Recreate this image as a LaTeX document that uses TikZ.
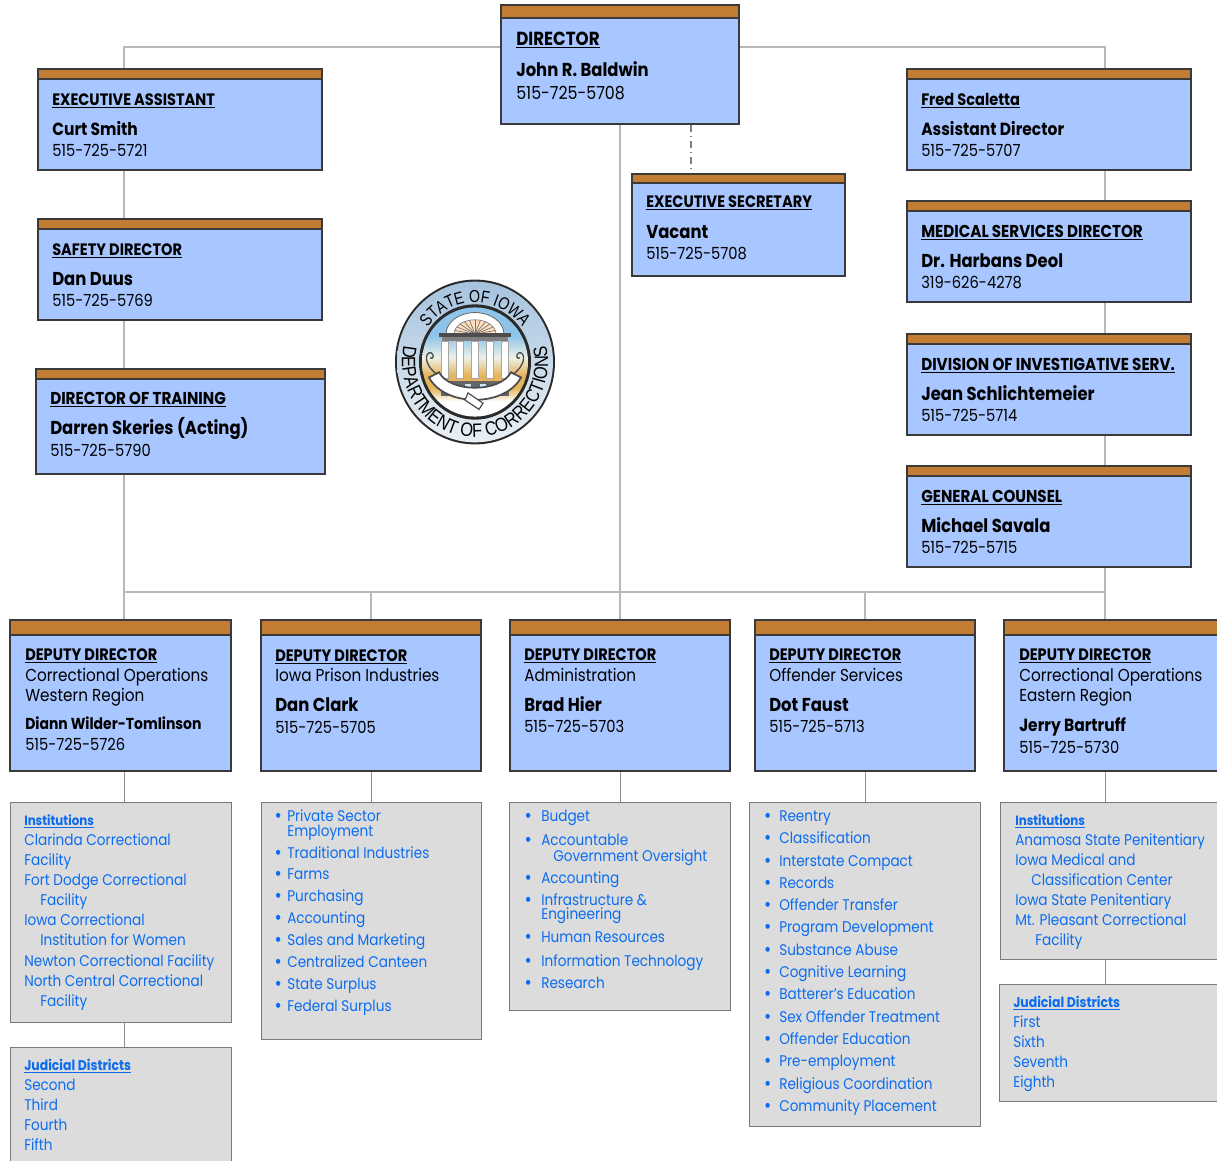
\documentclass[tikz,border=0pt]{standalone}
\usepackage{fontspec}
\setmainfont{Poppins}[FakeStretch=0.88]
\newfontfamily\sealtop{Liberation Sans}[FakeStretch=0.82]
\newfontfamily\sealrim{Liberation Sans}[FakeStretch=0.85]
\usetikzlibrary{decorations.text}
\definecolor{boxblue}{HTML}{A8C6FF}
\definecolor{barorange}{HTML}{C27C33}
\definecolor{edgedark}{HTML}{3A3A3A}
\definecolor{panelgray}{HTML}{DCDCDC}
\definecolor{paneledge}{HTML}{7A7A7A}
\definecolor{wiregray}{HTML}{B8B8B8}
\definecolor{lowgray}{HTML}{8C8C8C}
\definecolor{linkblue}{HTML}{0B6CF0}
\definecolor{sealtopc}{HTML}{A6C3DE}
\definecolor{sealbotc}{HTML}{EAF0F5}
\definecolor{sealink}{HTML}{2A2A2A}
\definecolor{skyblue}{HTML}{8FC4EA}
\definecolor{skypale}{HTML}{EDF1E6}
\definecolor{sandgold}{HTML}{E6B45C}
\pgfdeclareverticalshading{sealsky}{100bp}{color(0bp)=(white); color(32bp)=(white); color(38bp)=(sandgold); color(44bp)=(sandgold); color(52bp)=(skypale); color(62bp)=(skyblue); color(100bp)=(skyblue)}
\tikzset{
  bluebox/.style={draw=edgedark, line width=1.5pt, fill=boxblue, inner sep=0pt},
  barbox/.style={draw=edgedark, line width=1.5pt, fill=barorange, inner sep=0pt, anchor=north},
  graybox/.style={draw=paneledge, line width=0.6pt, fill=panelgray, inner sep=0pt},
  wire/.style={wiregray, line width=0.8pt},
  lowwire/.style={lowgray, line width=0.6pt},
  textline/.style={anchor=base west, inner sep=0pt, text=black},
  headline/.style={textline, font=\fontsize{12.4pt}{14pt}\selectfont\bfseries},
  wideheadline/.style={textline, font=\fontsize{12.9pt}{14pt}\selectfont\bfseries},
  tophead/.style={textline, font=\fontsize{14.2pt}{16pt}\selectfont\bfseries},
  nameline/.style={textline, font=\fontsize{14pt}{16pt}\selectfont\bfseries},
  smallname/.style={textline, font=\fontsize{11.9pt}{15pt}\selectfont\bfseries},
  midname/.style={textline, font=\fontsize{13.2pt}{15pt}\selectfont\bfseries},
  infoline/.style={textline, font=\fontsize{13pt}{15pt}\selectfont},
  phoneline/.style={textline, font=\fontsize{12.5pt}{15pt}\selectfont},
  topphone/.style={textline, font=\fontsize{13.5pt}{15pt}\selectfont},
  linkline/.style={textline, text=linkblue, font=\fontsize{11.6pt}{14pt}\selectfont},
  linkhead/.style={textline, text=linkblue, font=\fontsize{10.1pt}{14pt}\selectfont\bfseries},
  judhead/.style={textline, text=linkblue, font=\fontsize{10.6pt}{14pt}\selectfont\bfseries},
}
\newcommand{\orgbox}[6]{% name, left, top, right, bottom, bar bottom
  \node[bluebox, minimum width={(#4-#2)*0.75pt}, minimum height={(#5-#3)*0.75pt}] (#1) at ({(#2+#4)/2},{(#3+#5)/2}) {};
  \node[barbox, minimum width={(#4-#2)*0.75pt}, minimum height={(#6-#3)*0.75pt}] (#1bar) at (#1.north) {};
}
\newcommand{\panelbox}[5]{% name, left, top, right, bottom
  \node[graybox, minimum width={(#4-#2)*0.75pt}, minimum height={(#5-#3)*0.75pt}] (#1) at ({(#2+#4)/2},{(#3+#5)/2}) {};
}
\newcommand{\itm}[1][4pt]{\llap{\raisebox{-0.9pt}{\fontsize{15pt}{15pt}\selectfont\textbullet}\hspace{#1}}}
\begin{document}
\begin{tikzpicture}[x=0.75pt, y=-0.75pt]
    \clip (0,0) rectangle (1217,1160);
    % upper row of boxes
    \orgbox{director}{501}{5}{739}{124}{18}
    \orgbox{assistant}{38}{69}{322}{170}{79}
    \orgbox{safety}{38}{219}{322}{320}{229}
    \orgbox{training}{36}{369}{325}{474}{379}
    \orgbox{scaletta}{907}{69}{1191}{170}{79}
    \orgbox{medical}{907}{201}{1191}{302}{211}
    \orgbox{investig}{907}{334}{1191}{435}{344}
    \orgbox{counsel}{907}{466}{1191}{567}{476}
    \orgbox{secretary}{632}{174}{845}{276}{183}
    % deputies
    \orgbox{western}{10}{620}{231}{771}{635}
    \orgbox{prison}{261}{620}{481}{771}{635}
    \orgbox{admin}{510}{620}{730}{771}{635}
    \orgbox{offender}{755}{620}{975}{771}{635}
    \orgbox{eastern}{1004}{620}{1230}{771}{635}
    % gray panels
    \panelbox{westlist}{10}{802}{231}{1022}
    \panelbox{westjud}{10}{1047}{231}{1175}
    \panelbox{prisonlist}{261}{802}{481}{1039}
    \panelbox{adminlist}{509}{802}{730}{1010}
    \panelbox{offendlist}{749}{802}{980}{1126}
    \panelbox{eastlist}{1000}{802}{1230}{959}
    \panelbox{eastjud}{999}{984}{1230}{1101}
    % connectors
    \coordinate (upleft) at (124,47);
    \coordinate (upright) at (1105,47);
    \coordinate (busleft) at (124,592);
    \coordinate (busright) at (1105,592);
    \coordinate (secdash) at (691,170);
    \draw[wire] (director.west |- upleft) -- (upleft) -- (assistant.north -| upleft);
    \draw[wire] (assistant.south -| upleft) -- (safety.north -| upleft);
    \draw[wire] (safety.south -| upleft) -- (training.north -| upleft);
    \draw[wire] (training.south -| upleft) -- (western.north -| upleft);
    \draw[wire] (director.east |- upright) -- (upright) -- (scaletta.north -| upright);
    \draw[wire] (scaletta.south -| upright) -- (medical.north -| upright);
    \draw[wire] (medical.south -| upright) -- (investig.north -| upright);
    \draw[wire] (investig.south -| upright) -- (counsel.north -| upright);
    \draw[wire] (counsel.south -| upright) -- (eastern.north -| upright);
    \draw[wire] (busleft) -- (busright);
    \draw[wire] (director.south) -- (admin.north);
    \draw[wire] (prison.north) -- (prison.north |- busleft);
    \draw[wire] (offender.north) -- (offender.north |- busleft);
    \draw[gray, line width=0.8pt, dash pattern=on 5pt off 3pt on 1pt off 3pt] (director.south -| secdash) -- (secdash);
    \draw[lowwire] (western.south -| upleft) -- (westlist.north -| upleft);
    \draw[lowwire] (prison.south) -- (prisonlist.north -| prison.south);
    \draw[lowwire] (admin.south) -- (adminlist.north -| admin.south);
    \draw[lowwire] (offender.south) -- (offendlist.north -| offender.south);
    \draw[lowwire] (eastern.south -| upright) -- (eastlist.north -| upright);
    \draw[lowwire] (westlist.south -| upleft) -- (westjud.north -| upleft);
    \draw[lowwire] (eastlist.south -| upright) -- (eastjud.north -| upright);
    % text of upper boxes
    \node[tophead] (t1a) at (516,45) {\underline{DIRECTOR}};
    \node[nameline] (t1b) at (516,76) {John R. Baldwin};
    \node[topphone] (t1c) at (516,99) {515-725-5708};
    \node[headline] (t2a) at (52,105) {\underline{EXECUTIVE ASSISTANT}};
    \node[midname] (t2b) at (52,135) {Curt Smith};
    \node[phoneline] (t2c) at (52,156) {515-725-5721};
    \node[headline] (t3a) at (52,255) {\underline{SAFETY DIRECTOR}};
    \node[nameline] (t3b) at (52,285) {Dan Duus};
    \node[phoneline] (t3c) at (52,306) {515-725-5769};
    \node[wideheadline] (t4a) at (50,404) {\underline{DIRECTOR OF TRAINING}};
    \node[nameline] (t4b) at (50,434) {Darren Skeries (Acting)};
    \node[phoneline] (t4c) at (50,456) {515-725-5790};
    \node[headline] (t5a) at (921,105) {\underline{Fred Scaletta}};
    \node[midname] (t5b) at (921,135) {Assistant Director};
    \node[phoneline] (t5c) at (921,156) {515-725-5707};
    \node[wideheadline] (t6a) at (921,237) {\underline{MEDICAL SERVICES DIRECTOR}};
    \node[nameline] (t6b) at (921,267) {Dr. Harbans Deol};
    \node[phoneline] (t6c) at (921,288) {319-626-4278};
    \node[wideheadline] (t7a) at (921,370) {\underline{DIVISION OF INVESTIGATIVE SERV.}};
    \node[nameline] (t7b) at (921,400) {Jean Schlichtemeier};
    \node[phoneline] (t7c) at (921,421) {515-725-5714};
    \node[wideheadline] (t8a) at (921,502) {\underline{GENERAL COUNSEL}};
    \node[nameline] (t8b) at (921,532) {Michael Savala};
    \node[phoneline] (t8c) at (921,553) {515-725-5715};
    \node[headline] (t9a) at (646,207) {\underline{EXECUTIVE SECRETARY}};
    \node[nameline] (t9b) at (646,238) {Vacant};
    \node[phoneline] (t9c) at (646,259) {515-725-5708};
    % text of deputy boxes
    \node[headline] (d1a) at (25,660) {\underline{DEPUTY DIRECTOR}};
    \node[infoline] (d1b) at (25,681) {Correctional Operations};
    \node[infoline] (d1c) at (25,701) {Western Region};
    \node[smallname] (d1d) at (25,729) {Diann Wilder-Tomlinson};
    \node[phoneline] (d1e) at (25,750) {515-725-5726};
    \node[headline] (d2a) at (275,661) {\underline{DEPUTY DIRECTOR}};
    \node[infoline] (d2b) at (275,681) {Iowa Prison Industries};
    \node[nameline] (d2c) at (275,711) {Dan Clark};
    \node[phoneline] (d2d) at (275,733) {515-725-5705};
    \node[headline] (d3a) at (524,660) {\underline{DEPUTY DIRECTOR}};
    \node[infoline] (d3b) at (524,681) {Administration};
    \node[nameline] (d3c) at (524,711) {Brad Hier};
    \node[phoneline] (d3d) at (524,732) {515-725-5703};
    \node[headline] (d4a) at (769,660) {\underline{DEPUTY DIRECTOR}};
    \node[infoline] (d4b) at (769,681) {Offender Services};
    \node[nameline] (d4c) at (769,711) {Dot Faust};
    \node[phoneline] (d4d) at (769,732) {515-725-5713};
    \node[headline] (d5a) at (1019,660) {\underline{DEPUTY DIRECTOR}};
    \node[infoline] (d5b) at (1019,681) {Correctional Operations};
    \node[infoline] (d5c) at (1019,701) {Eastern Region};
    \node[midname] (d5d) at (1019,731) {Jerry Bartruff};
    \node[phoneline] (d5e) at (1019,753) {515-725-5730};
    % west panels
    \node[linkhead] (w0) at (24,825) {\underline{Institutions}};
    \node[linkline] (w1) at (24,845) {Clarinda Correctional};
    \node[linkline] (w2) at (24,865) {Facility};
    \node[linkline] (w3) at (24,885) {Fort Dodge Correctional};
    \node[linkline] (w4) at (40,905) {Facility};
    \node[linkline] (w5) at (24,925) {Iowa Correctional};
    \node[linkline] (w6) at (40,945) {Institution for Women};
    \node[linkline] (w7) at (24,966) {Newton Correctional Facility};
    \node[linkline] (w8) at (24,986) {North Central Correctional};
    \node[linkline] (w9) at (40,1006) {Facility};
    \node[judhead] (j0) at (24,1070) {\underline{Judicial Districts}};
    \node[linkline] (j1) at (24,1090) {Second};
    \node[linkline] (j2) at (24,1110) {Third};
    \node[linkline] (j3) at (24,1130) {Fourth};
    \node[linkline] (j4) at (24,1150) {Fifth};
    % prison list
    \node[linkline] (p1) at (287,821) {\itm{}Private Sector};
    \node[linkline] (p2) at (287,836) {Employment};
    \node[linkline] (p3) at (287,858) {\itm{}Traditional Industries};
    \node[linkline] (p4) at (287,879) {\itm{}Farms};
    \node[linkline] (p5) at (287,901) {\itm{}Purchasing};
    \node[linkline] (p6) at (287,923) {\itm{}Accounting};
    \node[linkline] (p7) at (287,945) {\itm{}Sales and Marketing};
    \node[linkline] (p8) at (287,967) {\itm{}Centralized Canteen};
    \node[linkline] (p9) at (287,989) {\itm{}State Surplus};
    \node[linkline] (p10) at (287,1011) {\itm{}Federal Surplus};
    % admin list
    \node[linkline] (a1) at (541,821) {\itm[7pt]Budget};
    \node[linkline] (a2) at (541,845) {\itm[7pt]Accountable};
    \node[linkline] (a3) at (553,861) {Government Oversight};
    \node[linkline] (a4) at (541,883) {\itm[7pt]Accounting};
    \node[linkline] (a5) at (541,905) {\itm[7pt]Infrastructure \&};
    \node[linkline] (a6) at (541,919) {Engineering};
    \node[linkline] (a7) at (541,942) {\itm[7pt]Human Resources};
    \node[linkline] (a8) at (541,966) {\itm[7pt]Information Technology};
    \node[linkline] (a9) at (541,988) {\itm[7pt]Research};
    % offender list
    \node[linkline] (o1) at (779,821) {\itm[6pt]Reentry};
    \node[linkline] (o2) at (779,843) {\itm[6pt]Classification};
    \node[linkline] (o3) at (779,866) {\itm[6pt]Interstate Compact};
    \node[linkline] (o4) at (779,888) {\itm[6pt]Records};
    \node[linkline] (o5) at (779,910) {\itm[6pt]Offender Transfer};
    \node[linkline] (o6) at (779,932) {\itm[6pt]Program Development};
    \node[linkline] (o7) at (779,955) {\itm[6pt]Substance Abuse};
    \node[linkline] (o8) at (779,977) {\itm[6pt]Cognitive Learning};
    \node[linkline] (o9) at (779,999) {\itm[6pt]Batterer's Education};
    \node[linkline] (o10) at (779,1022) {\itm[6pt]Sex Offender Treatment};
    \node[linkline] (o11) at (779,1044) {\itm[6pt]Offender Education};
    \node[linkline] (o12) at (779,1066) {\itm[6pt]Pre-employment};
    \node[linkline] (o13) at (779,1089) {\itm[6pt]Religious Coordination};
    \node[linkline] (o14) at (779,1111) {\itm[6pt]Community Placement};
    % east panels
    \node[linkhead] (e0) at (1015,825) {\underline{Institutions}};
    \node[linkline] (e1) at (1015,845) {Anamosa State Penitentiary};
    \node[linkline] (e2) at (1015,865) {Iowa Medical and};
    \node[linkline] (e3) at (1031,885) {Classification Center};
    \node[linkline] (e4) at (1015,905) {Iowa State Penitentiary};
    \node[linkline] (e5) at (1015,925) {Mt. Pleasant Correctional};
    \node[linkline] (e6) at (1035,945) {Facility};
    \node[judhead] (k0) at (1013,1007) {\underline{Judicial Districts}};
    \node[linkline] (k1) at (1013,1027) {First};
    \node[linkline] (k2) at (1013,1047) {Sixth};
    \node[linkline] (k3) at (1013,1067) {Seventh};
    \node[linkline] (k4) at (1013,1087) {Eighth};
    % seal
    \begin{scope}[shift={(475,362)}, yscale=-1.03]
        \fill[sealink] (0,0) circle (80);
        \shade[top color=sealtopc, bottom color=sealbotc] (0,0) circle (78);
        \fill[sealink] (0,0) circle (56);
        \shade[shading=sealsky] (0,0) circle (53);
        \fill[white, draw=black!60, line width=0.6pt] (-29,27) arc (180:0:29 and 21) -- cycle;
        \fill[orange!25!white, draw=black!50, line width=0.5pt] (-21,27) arc (180:0:21 and 14) -- cycle;
        \foreach \ang in {15,30,...,165}
            \draw[black!55, line width=0.5pt] (0,27) -- ++(\ang:21 and 14);
        \fill[black!70] (-36,28) rectangle (36,24);
        \fill[black!50] (-33,24) rectangle (33,20);
        \foreach \colx in {-30,-15,0,15,30}
            \fill[white, draw=black!35, line width=0.3pt] (\colx-3.5,20) rectangle (\colx+3.5,-16);
        \fill[black!60] (-34,-18) rectangle (34,-33);
        \foreach \colx in {-22.5,-7.5,7.5,22.5}
            \fill[skyblue!40!white] (\colx-3,-21) rectangle (\colx+3,-30);
        \draw[black!70, line width=1.3pt, fill=white] (-46,-15) .. controls (-30,-44) and (30,-44) .. (46,-15) -- (36,-10) .. controls (25,-30) and (-25,-30) .. (-36,-10) -- cycle;
        \draw[black!70, line width=0.9pt, fill=white] (-7,-30) -- (8,-40) -- (4,-46) -- (-10,-37) -- cycle;
        \draw[black!70, line width=1pt] (-38,-12) .. controls (-52,-2) and (-50,10) .. (-44,9) .. controls (-40,7) and (-42,2) .. (-45,4);
        \draw[black!70, line width=1pt] (38,-12) .. controls (52,-2) and (50,10) .. (44,9) .. controls (40,7) and (42,2) .. (45,4);
        \path[decorate, decoration={text along path, text align=center, text={|\fontsize{13pt}{14pt}\selectfont\sealtop\color{black}|STATE OF IOWA}}] (165:58) arc (165:15:58);
        \path[decorate, decoration={text along path, text align=center, text={|\fontsize{14.5pt}{15pt}\selectfont\sealrim\color{black}|DEPARTMENT OF CORRECTIONS}}] (150:73) arc (150:390:73);
    \end{scope}
\end{tikzpicture}
\end{document}
